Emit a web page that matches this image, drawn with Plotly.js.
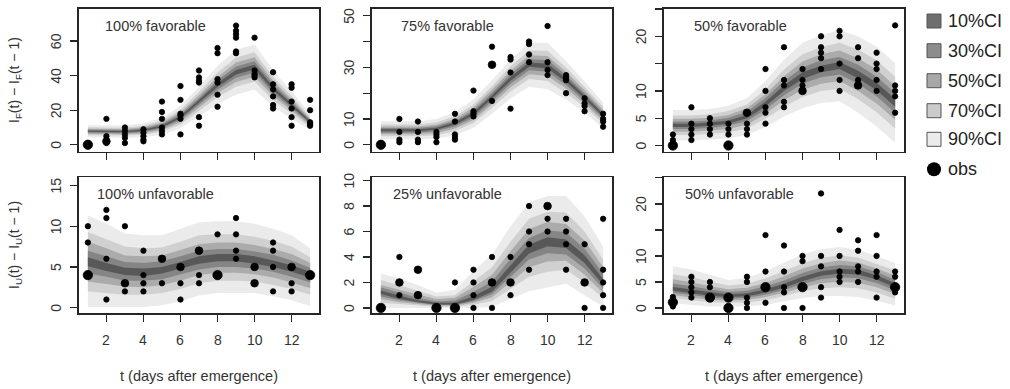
<!DOCTYPE html>
<html><head><meta charset="utf-8">
<script src="https://cdn.plot.ly/plotly-3.0.1.min.js"></script>
<style>html,body{margin:0;padding:0;background:#fff}#chart{width:1010px;height:389px}</style>
</head><body><div id="chart"></div>
<script>
// ---------- data ----------
const days = [1,2,3,4,5,6,7,8,9,10,11,12,13];
const xTickVals = [2,4,6,8,10,12];
const panelLabels = ['100% favorable','75% favorable','50% favorable','100% unfavorable','25% unfavorable','50% unfavorable'];
const ciLabels = ['10%CI','30%CI','50%CI','70%CI','90%CI'];
const xTitle = 't (days after emergence)';
const yTitleTop = 'I<sub>F</sub>(t) \u2212 I<sub>F</sub>(t \u2212 1)';
const yTitleBottom = 'I<sub>U</sub>(t) \u2212 I<sub>U</sub>(t \u2212 1)';

// 100% favorable
const F100_hi90 = [11.3,11.0,11.1,12.4,15.7,22.5,33.5,45.6,55.0,58.0,43.1,31.0,17.7];
const F100_lo90 = [4.3,4.0,4.1,4.4,5.7,9.5,16.5,23.6,29.0,32.0,22.1,15.0,8.7];
const F100_hi70 = [10.1,9.8,9.9,11.0,14.0,20.2,30.5,41.8,50.5,53.5,39.4,28.2,16.1];
const F100_lo70 = [5.5,5.2,5.3,5.8,7.5,11.8,19.5,27.5,33.6,36.6,25.8,17.8,10.3];
const F100_hi50 = [9.3,9.0,9.1,10.1,12.9,18.8,28.7,39.3,47.6,50.6,37.1,26.4,15.1];
const F100_lo50 = [6.3,6.0,6.1,6.7,8.6,13.2,21.3,29.9,36.4,39.4,28.1,19.6,11.3];
const F100_hi30 = [8.7,8.4,8.5,9.4,12.0,17.6,27.1,37.4,45.3,48.3,35.2,25.0,14.3];
const F100_lo30 = [6.9,6.6,6.7,7.4,9.5,14.4,22.9,31.9,38.8,41.8,30.0,21.0,12.1];
const F100_hi10 = [8.2,7.9,8.0,8.8,11.2,16.7,25.9,35.7,43.3,46.3,33.7,23.8,13.7];
const F100_lo10 = [7.5,7.2,7.3,8.0,10.2,15.4,24.2,33.5,40.7,43.7,31.6,22.2,12.8];
const F100_obs = [[0,0,0],[15,5,2,2,1],[10,8,6,4,1],[9,7,5,3,2],[25,19,15,10,8,6],[34,26,18,17,15,6],[43,39,37,36,16,11],[56,53,38,36,29,22],[69,66,64,62,54,53],[62,43,41,40,39],[42,35,32,28,23,21],[35,33,25,21,16,11],[26,20,13,12,11]];

// 75% favorable
const F75_hi90 = [9.1,9.1,9.1,10.0,12.7,17.5,25.0,33.0,39.5,39.5,32.5,24.5,16.4];
const F75_lo90 = [2.1,2.1,2.1,2.4,3.7,6.5,12.0,18.0,22.5,21.5,17.5,12.5,6.4];
const F75_hi70 = [7.9,7.9,7.9,8.7,11.1,15.6,22.7,30.4,36.5,36.4,29.9,22.4,14.7];
const F75_lo70 = [3.3,3.3,3.3,3.7,5.3,8.4,14.3,20.6,25.5,24.7,20.1,14.6,8.2];
const F75_hi50 = [7.1,7.1,7.1,7.8,10.1,14.4,21.3,28.7,34.7,34.4,28.2,21.1,13.6];
const F75_lo50 = [4.1,4.1,4.1,4.6,6.3,9.6,15.7,22.3,27.3,26.6,21.8,15.9,9.3];
const F75_hi30 = [6.5,6.5,6.5,7.2,9.3,13.4,20.1,27.4,33.1,32.8,26.9,20.0,12.7];
const F75_lo30 = [4.7,4.7,4.7,5.3,7.1,10.6,16.9,23.6,28.9,28.3,23.1,17.0,10.2];
const F75_hi10 = [6.0,6.0,6.0,6.6,8.7,12.6,19.2,26.3,31.9,31.4,25.8,19.1,11.9];
const F75_lo10 = [5.2,5.2,5.2,5.8,7.8,11.5,17.9,24.8,30.2,29.6,24.3,17.9,10.9];
const F75_obs = [[0,0,0],[10,5,2,1],[9,5,2,1],[5,4,3,1],[12,9,4,3,2],[21,13,12,11],[38,31,31,17],[34,33,28,14],[40,39,35,32],[46,32,29,27],[27,26,25,20],[18,16,15,13],[12,10,9,7]];

// 50% favorable
const F50_hi90 = [6.5,6.5,6.7,7.3,8.7,11.8,15.7,18.8,20.2,21.1,20.0,18.1,15.1];
const F50_lo90 = [0.9,0.9,1.1,1.3,1.9,3.4,5.3,6.8,7.8,8.1,6.0,3.5,0.5];
const F50_hi70 = [5.5,5.5,5.7,6.3,7.5,10.3,13.9,16.7,18.0,18.8,17.6,15.6,12.6];
const F50_lo70 = [1.9,1.9,2.1,2.4,3.1,4.9,7.1,8.9,10.0,10.4,8.5,6.1,3.1];
const F50_hi50 = [4.9,4.9,5.1,5.6,6.8,9.4,12.7,15.4,16.7,17.4,16.0,13.9,10.9];
const F50_lo50 = [2.5,2.5,2.7,3.0,3.8,5.8,8.3,10.2,11.3,11.8,10.0,7.7,4.7];
const F50_hi30 = [4.4,4.4,4.6,5.1,6.2,8.7,11.8,14.3,15.6,16.2,14.8,12.6,9.6];
const F50_lo30 = [3.0,3.0,3.2,3.6,4.5,6.6,9.2,11.3,12.5,13.0,11.3,9.0,6.0];
const F50_hi10 = [4.0,4.0,4.2,4.6,5.6,8.0,11.0,13.4,14.6,15.3,13.7,11.5,8.5];
const F50_lo10 = [3.4,3.4,3.6,4.0,5.0,7.2,10.0,12.2,13.4,14.0,12.3,10.1,7.1];
const F50_obs = [[2,1,0,0,0],[7,4,3,2,1],[5,4,3,2],[4,3,2,0,0,0],[6,6,4,3,2],[14,10,7,6,4],[18,12,11,8,7],[14,12,11,10,10],[20,18,17,16,14],[21,20,15,12,10],[18,16,12,11,11],[17,15,14,12,10],[22,11,10,9,6]];

// 100% unfavorable
const U100_hi90 = [11.3,10.3,9.1,8.9,8.9,9.7,10.5,10.6,10.6,10.3,9.7,8.9,7.3];
const U100_lo90 = [0.1,0.1,0.1,0.1,0.3,0.8,1.5,1.8,1.8,1.8,1.4,0.9,0.2];
const U100_hi70 = [9.3,8.4,7.5,7.3,7.4,8.1,8.9,9.0,9.0,8.7,8.2,7.5,6.2];
const U100_lo70 = [2.0,1.8,1.6,1.6,1.8,2.3,3.0,3.3,3.3,3.2,2.8,2.3,1.6];
const U100_hi50 = [8.1,7.3,6.4,6.3,6.4,7.1,7.8,8.0,8.0,7.7,7.2,6.6,5.5];
const U100_lo50 = [3.2,2.9,2.6,2.5,2.8,3.3,4.0,4.3,4.3,4.1,3.7,3.1,2.4];
const U100_hi30 = [7.0,6.3,5.6,5.5,5.7,6.3,7.0,7.2,7.2,6.9,6.5,5.8,4.9];
const U100_lo30 = [4.2,3.8,3.3,3.3,3.5,4.1,4.7,5.0,5.0,4.8,4.4,3.8,3.1];
const U100_hi10 = [6.2,5.5,4.9,4.8,5.0,5.6,6.3,6.6,6.6,6.3,5.8,5.2,4.4];
const U100_lo10 = [5.1,4.5,4.0,3.9,4.2,4.8,5.4,5.7,5.7,5.4,5.0,4.4,3.7];
const U100_obs = [[10,8,4,4,4],[12,11,6,1],[10,3,3,2],[7,4,3,2],[6,6,3],[5,5,3,1],[7,7,4,3],[9,4,4,4],[11,9,7,6],[5,5,3,3],[8,7,5,2],[5,5,3,2],[4,4,4]];

// 25% unfavorable
const U25_hi90 = [2.7,2.3,1.8,1.2,1.4,2.9,4.2,6.4,8.3,8.8,8.8,7.2,4.8];
const U25_lo90 = [0.0,0.0,0.0,0.0,0.0,0.0,0.1,0.7,1.3,1.6,1.9,1.0,0.1];
const U25_hi70 = [2.2,1.8,1.35,0.9,1.0,2.1,3.2,5.2,7.0,7.55,7.5,6.0,3.8];
const U25_lo70 = [0.4,0.3,0.2,0.1,0.1,0.25,0.55,1.5,2.45,2.85,3.0,2.0,0.77];
const U25_hi50 = [1.8,1.4,1.05,0.7,0.8,1.65,2.6,4.46,6.2,6.75,6.6,5.3,3.2];
const U25_lo50 = [0.7,0.45,0.3,0.17,0.17,0.4,0.84,2.0,3.2,3.65,3.7,2.6,1.18];
const U25_hi30 = [1.6,1.2,0.8,0.5,0.58,1.25,2.1,3.85,5.5,6.1,5.95,4.65,2.7];
const U25_lo30 = [0.9,0.6,0.4,0.22,0.22,0.52,1.08,2.43,3.8,4.3,4.2,3.1,1.53];
const U25_hi10 = [1.35,0.95,0.6,0.4,0.41,0.92,1.68,3.34,4.97,5.56,5.38,4.14,2.28];
const U25_lo10 = [1.1,0.7,0.45,0.27,0.27,0.63,1.27,2.77,4.27,4.84,4.7,3.52,1.81];
const U25_obs = [[0,0,0],[4,2,2,1],[3,3,1,1],[0,0,0],[2,0,0,0],[3,2,1,0],[4,2,2,0],[4,2,2,1],[8,6,5,3],[8,8,7,6],[7,6,5,3],[5,2,2,0],[7,3,2,1,0]];

// 50% unfavorable
const U50_hi90 = [8.0,7.4,6.4,5.4,5.8,7.0,8.7,10.3,11.3,11.7,11.2,9.9,8.7];
const U50_lo90 = [1.0,0.6,0.3,0.3,0.3,0.6,1.3,1.9,2.3,2.3,2.1,1.4,0.5];
const U50_hi70 = [6.5,5.9,5.1,4.3,4.65,5.7,7.1,8.6,9.65,10.1,9.7,8.5,7.2];
const U50_lo70 = [1.9,1.5,1.1,1.0,1.07,1.5,2.3,3.2,3.8,4.0,3.8,3.0,1.8];
const U50_hi50 = [5.5,4.95,4.2,3.6,3.9,4.8,6.1,7.6,8.6,9.1,8.75,7.6,6.2];
const U50_lo50 = [2.5,2.0,1.6,1.44,1.55,2.1,2.95,3.95,4.75,5.04,4.84,3.97,2.67];
const U50_hi30 = [4.7,4.2,3.55,3.08,3.33,4.15,5.3,6.7,7.8,8.25,8.0,6.9,5.4];
const U50_lo30 = [2.95,2.5,2.0,1.8,1.95,2.55,3.48,4.6,5.5,5.9,5.7,4.78,3.35];
const U50_hi10 = [4.04,3.53,2.98,2.61,2.83,3.58,4.65,5.98,7.07,7.56,7.33,6.3,4.74];
const U50_lo10 = [3.34,2.85,2.37,2.1,2.28,2.94,3.91,5.14,6.17,6.62,6.42,5.45,3.92];
const U50_obs = [[2.1,1.6,1.1,1.1,1.1,0.3],[6,5,4,3,2],[5,4,2,2,2],[2,2,2,0,0,0],[6,5,2,1,0],[14,7,4,4,4,1],[12,7,4,3,0],[10,9,4,4,4,0],[22,10,8,4,2],[15,10,7,6,5],[13,11,8,7,5],[14,10,7,6,2],[7,6,4,4,4,3]];

// y-axis ticks per panel (labels: which ticks carry a printed number)
const F100_yticks = [0,20,40,60];       const F100_ylab = [0,20,40,60];
const F75_yticks  = [0,10,20,30,40,50]; const F75_ylab  = [0,10,30,50];
const F50_yticks  = [0,5,10,15,20,25];  const F50_ylab  = [0,5,10,20];
const U100_yticks = [0,5,10,15];        const U100_ylab = [0,5,10,15];
const U25_yticks  = [0,2,4,6,8,10];     const U25_ylab  = [0,2,4,6,8,10];
const U50_yticks  = [0,5,10,15,20,25];  const U50_ylab  = [0,5,10,20];

// ---------- layout helpers ----------
const W = 1010, H = 389;
const px = x => x / W, py = y => 1 - y / H;
const FONT = 'Liberation Sans, Arial, Helvetica, sans-serif';
const bandColors = {90:'#ebebeb', 70:'#d0d0d0', 50:'#ababab', 30:'#858585', 10:'#585858'};

const panels = [
  {bands:{90:[F100_hi90,F100_lo90],70:[F100_hi70,F100_lo70],50:[F100_hi50,F100_lo50],30:[F100_hi30,F100_lo30],10:[F100_hi10,F100_lo10]}, obs:F100_obs, yr:[-3.9,78.6], yt:F100_yticks, yl:F100_ylab, col:0, row:0, lab:[103,26]},
  {bands:{90:[F75_hi90,F75_lo90],70:[F75_hi70,F75_lo70],50:[F75_hi50,F75_lo50],30:[F75_hi30,F75_lo30],10:[F75_hi10,F75_lo10]}, obs:F75_obs, yr:[-2.6,52.6], yt:F75_yticks, yl:F75_ylab, col:1, row:0, lab:[399,26]},
  {bands:{90:[F50_hi90,F50_lo90],70:[F50_hi70,F50_lo70],50:[F50_hi50,F50_lo50],30:[F50_hi30,F50_lo30],10:[F50_hi10,F50_lo10]}, obs:F50_obs, yr:[-1.1,25.0], yt:F50_yticks, yl:F50_ylab, col:2, row:0, lab:[692,26]},
  {bands:{90:[U100_hi90,U100_lo90],70:[U100_hi70,U100_lo70],50:[U100_hi50,U100_lo50],30:[U100_hi30,U100_lo30],10:[U100_hi10,U100_lo10]}, obs:U100_obs, yr:[-0.65,16.0], yt:U100_yticks, yl:U100_ylab, col:0, row:1, lab:[95,194]},
  {bands:{90:[U25_hi90,U25_lo90],70:[U25_hi70,U25_lo70],50:[U25_hi50,U25_lo50],30:[U25_hi30,U25_lo30],10:[U25_hi10,U25_lo10]}, obs:U25_obs, yr:[-0.4,10.26], yt:U25_yticks, yl:U25_ylab, col:1, row:1, lab:[391,194]},
  {bands:{90:[U50_hi90,U50_lo90],70:[U50_hi70,U50_lo70],50:[U50_hi50,U50_lo50],30:[U50_hi30,U50_lo30],10:[U50_hi10,U50_lo10]}, obs:U50_obs, yr:[-0.96,25.1], yt:U50_yticks, yl:U50_ylab, col:2, row:1, lab:[683,194]}
];
const colPx = [[79,319],[372,612],[664,904]];
const rowPx = [[9,151.5],[177.3,313]];

const traces = [];
const layout = {
  width: W, height: H, margin:{l:0,r:0,t:0,b:0},
  paper_bgcolor:'#fff', plot_bgcolor:'#fff', showlegend:false,
  font:{family:FONT, color:'#333'},
  annotations:[], shapes:[]
};
const tickFont = {family:FONT, size:14, color:'#333'};

const axBase = {showline:true, mirror:true, linecolor:'#262626', linewidth:1.6,
  ticks:'outside', ticklen:7, tickwidth:1.3, tickcolor:'#262626',
  showgrid:false, zeroline:false, fixedrange:true, showticklabels:false};

panels.forEach((p, i) => {
  const s = i === 0 ? '' : String(i + 1);
  const xa = 'x' + s, ya = 'y' + s;
  [90,70,50,30,10].forEach(lv => {
    const [hi, lo] = p.bands[lv];
    traces.push({type:'scatter', mode:'lines', xaxis:xa, yaxis:ya,
      x: days.concat(days.slice().reverse()),
      y: hi.concat(lo.slice().reverse()),
      fill:'toself', fillcolor: bandColors[lv], line:{width:0, color:bandColors[lv]},
      hoverinfo:'skip'});
  });
  // observations: duplicated values drawn as larger dots
  const ox = [], oy = [], os = [];
  p.obs.forEach((vals, k) => {
    const counts = {};
    vals.forEach(v => { counts[v] = (counts[v] || 0) + 1; });
    Object.keys(counts).forEach(v => { ox.push(days[k]); oy.push(+v); os.push(5.4 * Math.sqrt(counts[v])); });
  });
  traces.push({type:'scatter', mode:'markers', xaxis:xa, yaxis:ya, x:ox, y:oy,
    marker:{color:'#000', opacity:1, size:os, line:{width:0.8, color:'#000'}}, hoverinfo:'x+y'});

  const [cx0, cx1] = colPx[p.col], [ry0, ry1] = rowPx[p.row];
  layout['xaxis' + s] = Object.assign({}, axBase, {
    domain:[px(cx0), px(cx1)], anchor:ya, range:[0.52, 13.48], tickvals:xTickVals});
  layout['yaxis' + s] = Object.assign({}, axBase, {
    domain:[py(ry1), py(ry0)], anchor:xa, range:p.yr, tickvals:p.yt});

  // y tick labels (rotated, R style)
  p.yl.forEach(v => layout.annotations.push({xref:'paper', yref:ya, x:px(cx0 - 23), y:v,
    textangle:-90, xanchor:'center', yanchor:'middle', showarrow:false, text:String(v), font:tickFont}));
  // x tick labels on the bottom row
  if (p.row === 1) {
    xTickVals.forEach(v => layout.annotations.push({xref:xa, yref:'paper', x:v, y:py(340),
      xanchor:'center', yanchor:'middle', showarrow:false, text:String(v), font:tickFont}));
    layout.annotations.push({xref:'paper', yref:'paper', x:px((cx0 + cx1) / 2), y:py(376),
      xanchor:'center', yanchor:'middle', showarrow:false, text:xTitle,
      font:{family:FONT, size:14.5, color:'#333'}});
  }
  layout.annotations.push({xref:'paper', yref:'paper', x:px(p.lab[0]), y:py(p.lab[1]),
    xanchor:'left', yanchor:'middle', showarrow:false, text:panelLabels[i],
    font:{family:FONT, size:14.5, color:'#333'}});
});

// y-axis titles
layout.annotations.push({xref:'paper', yref:'paper', x:px(15), y:py(80), textangle:-90,
  xanchor:'center', yanchor:'middle', showarrow:false, text:yTitleTop, font:{family:FONT, size:14, color:'#333'}});
layout.annotations.push({xref:'paper', yref:'paper', x:px(15), y:py(245), textangle:-90,
  xanchor:'center', yanchor:'middle', showarrow:false, text:yTitleBottom, font:{family:FONT, size:14, color:'#333'}});

// legend (drawn manually)
const legY = [21, 50.7, 80.7, 110.7, 139.3];
const legFill = ['#6e6e6e', '#8c8c8c', '#a8a8a8', '#cbcbcb', '#ebebeb'];
ciLabels.forEach((lab, k) => {
  layout.shapes.push({type:'rect', xref:'paper', yref:'paper',
    x0:px(927), x1:px(941), y0:py(legY[k] + 7), y1:py(legY[k] - 7),
    fillcolor:legFill[k], line:{color:'#555', width:1}});
  layout.annotations.push({xref:'paper', yref:'paper', x:px(946), y:py(legY[k]),
    xanchor:'left', yanchor:'middle', showarrow:false, text:lab,
    font:{family:FONT, size:18, color:'#222'}});
});
layout.shapes.push({type:'circle', xref:'paper', yref:'paper',
  x0:px(927), x1:px(941), y0:py(176.3), y1:py(162.3), fillcolor:'#000', line:{color:'#000', width:0}});
layout.annotations.push({xref:'paper', yref:'paper', x:px(946), y:py(169.3),
  xanchor:'left', yanchor:'middle', showarrow:false, text:'obs',
  font:{family:FONT, size:18, color:'#222'}});

Plotly.newPlot('chart', traces, layout, {staticPlot:true, displayModeBar:false});
</script>
</body></html>
